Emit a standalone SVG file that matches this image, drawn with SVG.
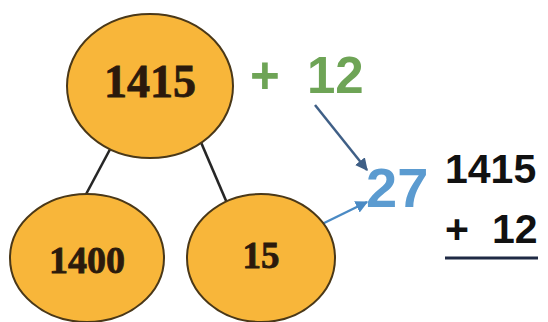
<svg xmlns="http://www.w3.org/2000/svg" width="548" height="322" viewBox="0 0 548 322">
<style>
.node{fill:#f8b63a;stroke:#4a3818;stroke-width:2}
.nt{font-family:"Liberation Serif",serif;font-weight:bold;fill:#2b1a0c;text-anchor:middle;stroke:#2b1a0c;stroke-width:0.8}
.tree{stroke:#262626;stroke-width:2.6;fill:none}
.sans{font-family:"Liberation Sans",Arial,sans-serif;font-weight:bold}
</style>
<defs>
<marker id="ahA" viewBox="0 0 10 10" refX="9" refY="5" markerWidth="5" markerHeight="5" orient="auto"><path d="M0,0 L10,5 L0,10 z" fill="#3f5f86"/></marker>
<marker id="ahB" viewBox="0 0 10 10" refX="9" refY="5" markerWidth="5" markerHeight="5" orient="auto"><path d="M0,0 L10,5 L0,10 z" fill="#4a8ac4"/></marker>
</defs>
<rect width="548" height="322" fill="#ffffff"/>
<g id="connectors">
<line class="tree" x1="115" y1="140" x2="84" y2="198"/>
<line class="tree" x1="200" y1="140" x2="227" y2="203"/>
<line x1="315" y1="105" x2="367" y2="170" stroke="#3f5f86" stroke-width="2.5" marker-end="url(#ahA)"/>
<line x1="318" y1="226" x2="367" y2="202" stroke="#4a8ac4" stroke-width="2.5" marker-end="url(#ahB)"/>
</g>
<g id="n1415">
<ellipse class="node" cx="150" cy="86" rx="83" ry="72"/>
<text class="nt" x="150" y="97" font-size="46">1415</text>
</g>
<g id="n1400">
<ellipse class="node" cx="87" cy="258" rx="77" ry="64"/>
<text class="nt" x="87" y="273" font-size="38">1400</text>
</g>
<g id="n15">
<ellipse class="node" cx="261" cy="258" rx="74" ry="64"/>
<text class="nt" x="261" y="268" font-size="37">15</text>
</g>
<g id="plus12">
<text class="sans" y="93" font-size="51" fill="#6ea456"><tspan x="250">+</tspan> <tspan x="307">12</tspan></text>
</g>
<g id="sum27">
<text class="sans" x="366" y="207" font-size="56" fill="#5b9bd0">27</text>
</g>
<g id="column">
<text class="sans" x="445" y="183" font-size="41" fill="#111111">1415</text>
<text class="sans" y="243" font-size="41" fill="#111111"><tspan x="445">+</tspan> <tspan x="492">12</tspan></text>
<line x1="445" y1="258" x2="538" y2="258" stroke="#1f2a44" stroke-width="3"/>
</g>
</svg>
